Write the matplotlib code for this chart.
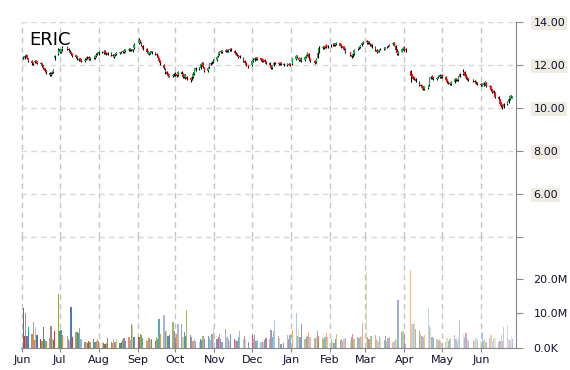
import matplotlib
matplotlib.use("Agg")
import matplotlib.pyplot as plt
import matplotlib.dates as mdates
import matplotlib.ticker as ticker
import numpy as np
import pandas as pd

# trading days Jun 2014 - Jun 2015
holidays = ['2014-07-04', '2014-09-01', '2014-11-27', '2014-12-25', '2015-01-01',
            '2015-01-19', '2015-02-16', '2015-04-03', '2015-05-25']
dates = pd.bdate_range('2014-06-02', '2015-06-26', freq='C', holidays=holidays)

opens = [
    12.38, 12.30, 12.42, 12.44, 12.28, 12.18, 12.06, 12.14, 12.20, 12.16, 12.08, 12.04, 11.96, 11.84, 11.70, 11.64, 11.52, 11.62, 11.68, 12.30, 12.50,
    12.72, 12.60, 12.72, 12.82, 12.74, 12.66, 12.58, 12.52, 12.44, 12.38, 12.24, 12.30, 12.24, 12.20, 12.26, 12.30, 12.36, 12.26, 12.34, 12.32, 12.42, 12.50,
    12.52, 12.62, 12.56, 12.64, 12.56, 12.48, 12.56, 12.46, 12.38, 12.44, 12.50, 12.54, 12.58, 12.64, 12.60, 12.66, 12.70, 12.76, 12.72, 12.66, 12.78,
    13.00, 13.14, 13.02, 12.90, 12.74, 12.62, 12.52, 12.56, 12.64, 12.56, 12.50, 12.42, 12.30, 12.18, 12.02, 11.82, 11.66, 11.58, 11.46, 11.50, 11.56,
    11.60, 11.56, 11.52, 11.66, 11.58, 11.44, 11.56, 11.42, 11.38, 11.32, 11.42, 11.58, 11.78, 11.86, 11.84, 12.02, 12.08, 11.88, 11.72, 11.90, 12.04, 12.12, 12.14,
    12.24, 12.40, 12.52, 12.64, 12.60, 12.62, 12.70, 12.64, 12.68, 12.74, 12.66, 12.56, 12.50, 12.44, 12.40, 12.32, 12.18, 12.08, 11.98,
    11.98, 12.18, 12.24, 12.34, 12.26, 12.30, 12.26, 12.18, 12.24, 12.16, 12.08, 11.98, 11.86, 11.98, 12.12, 12.10, 12.04, 12.10, 12.06, 11.98, 12.06, 12.04,
    12.06, 12.28, 12.42, 12.32, 12.24, 12.32, 12.22, 12.36, 12.46, 12.52, 12.28, 12.18, 12.12, 12.34, 12.60, 12.78, 12.86, 12.82, 12.92, 12.84,
    12.86, 12.92, 12.98, 12.94, 12.98, 13.00, 12.92, 12.86, 12.82, 12.74, 12.58, 12.46, 12.40, 12.52, 12.72, 12.78, 12.84, 12.92, 13.02,
    13.10, 13.02, 13.08, 12.98, 12.96, 12.84, 12.68, 12.62, 12.66, 12.74, 12.72, 12.76, 12.82, 12.86, 12.90, 12.96, 13.02, 12.88, 12.68, 12.52, 12.62, 12.74,
    12.82, 12.68, 11.70, 11.52, 11.46, 11.42, 11.36, 11.22, 11.08, 11.02, 10.96, 10.88, 10.94, 11.08, 11.38, 11.48, 11.42, 11.34, 11.42, 11.52, 11.44,
    11.52, 11.44, 11.32, 11.22, 11.16, 11.12, 11.22, 11.36, 11.32, 11.30, 11.46, 11.58, 11.66, 11.52, 11.42, 11.36, 11.32, 11.26, 11.22, 11.16,
    11.12, 11.02, 11.08, 11.14, 11.18, 11.02, 10.96, 10.86, 10.78, 10.68, 10.52, 10.38, 10.24, 10.12, 10.04, 10.18, 10.28, 10.42, 10.56, 10.48,
]
highs = [
    12.42, 12.44, 12.52, 12.48, 12.32, 12.22, 12.16, 12.22, 12.24, 12.20, 12.12, 12.08, 12.00, 11.88, 11.76, 11.68, 11.65, 11.70, 11.80, 12.48, 12.78,
    12.76, 12.74, 12.86, 12.88, 12.78, 12.70, 12.62, 12.56, 12.48, 12.42, 12.34, 12.34, 12.28, 12.30, 12.35, 12.40, 12.40, 12.36, 12.38, 12.45, 12.54, 12.62,
    12.64, 12.66, 12.68, 12.68, 12.60, 12.60, 12.60, 12.50, 12.46, 12.54, 12.60, 12.62, 12.66, 12.68, 12.70, 12.76, 12.80, 12.80, 12.76, 12.76, 13.00,
    13.24, 13.18, 13.06, 12.94, 12.78, 12.66, 12.62, 12.66, 12.66, 12.60, 12.54, 12.46, 12.34, 12.22, 12.06, 11.86, 11.70, 11.62, 11.56, 11.60, 11.64,
    11.66, 11.62, 11.70, 11.72, 11.62, 11.60, 11.60, 11.48, 11.42, 11.50, 11.66, 11.84, 11.90, 11.90, 12.10, 12.16, 12.12, 11.92, 11.90, 12.10, 12.14, 12.20, 12.26,
    12.40, 12.60, 12.66, 12.70, 12.70, 12.72, 12.74, 12.74, 12.78, 12.78, 12.68, 12.60, 12.54, 12.48, 12.44, 12.36, 12.22, 12.12, 12.02,
    12.24, 12.30, 12.36, 12.38, 12.36, 12.34, 12.30, 12.26, 12.28, 12.20, 12.12, 12.02, 12.00, 12.14, 12.16, 12.14, 12.14, 12.14, 12.08, 12.08, 12.10, 12.08,
    12.34, 12.46, 12.46, 12.36, 12.34, 12.36, 12.40, 12.50, 12.60, 12.56, 12.32, 12.22, 12.34, 12.60, 12.86, 12.90, 12.90, 12.94, 12.96, 12.95,
    12.96, 13.00, 13.02, 13.04, 13.08, 13.04, 12.96, 12.90, 12.86, 12.78, 12.62, 12.50, 12.54, 12.74, 12.80, 12.88, 12.94, 13.04, 13.12,
    13.14, 13.12, 13.10, 13.02, 12.98, 12.88, 12.72, 12.70, 12.74, 12.78, 12.82, 12.84, 12.90, 12.92, 12.98, 13.05, 13.06, 12.92, 12.72, 12.64, 12.80, 12.84,
    12.86, 12.80, 11.78, 11.56, 11.50, 11.46, 11.40, 11.26, 11.12, 11.06, 11.00, 11.00, 11.05, 11.45, 11.50, 11.52, 11.46, 11.44, 11.55, 11.56, 11.55,
    11.56, 11.48, 11.36, 11.26, 11.20, 11.24, 11.40, 11.40, 11.36, 11.50, 11.64, 11.80, 11.70, 11.56, 11.46, 11.40, 11.36, 11.30, 11.26, 11.20,
    11.16, 11.14, 11.20, 11.26, 11.22, 11.06, 11.00, 10.90, 10.82, 10.72, 10.56, 10.42, 10.28, 10.16, 10.24, 10.34, 10.44, 10.60, 10.62, 10.56,
]
lows = [
    12.26, 12.27, 12.38, 12.26, 12.15, 12.02, 12.02, 12.10, 12.10, 12.05, 12.00, 11.92, 11.80, 11.68, 11.60, 11.50, 11.48, 11.58, 11.64, 12.25, 12.45,
    12.55, 12.56, 12.66, 12.70, 12.62, 12.55, 12.45, 12.38, 12.30, 12.25, 12.20, 12.18, 12.12, 12.16, 12.22, 12.26, 12.24, 12.22, 12.26, 12.28, 12.38, 12.45,
    12.48, 12.55, 12.52, 12.50, 12.44, 12.44, 12.40, 12.35, 12.34, 12.40, 12.46, 12.50, 12.54, 12.56, 12.56, 12.62, 12.66, 12.66, 12.64, 12.62, 12.74,
    12.96, 13.00, 12.90, 12.70, 12.56, 12.50, 12.48, 12.52, 12.50, 12.45, 12.40, 12.26, 12.14, 12.02, 11.80, 11.60, 11.52, 11.42, 11.42, 11.46, 11.50,
    11.48, 11.44, 11.48, 11.54, 11.40, 11.40, 11.36, 11.28, 11.22, 11.28, 11.38, 11.55, 11.74, 11.76, 11.80, 11.98, 11.85, 11.65, 11.68, 11.86, 11.98, 12.06, 12.10,
    12.20, 12.36, 12.48, 12.56, 12.56, 12.58, 12.60, 12.60, 12.64, 12.64, 12.50, 12.45, 12.40, 12.34, 12.30, 12.15, 12.05, 11.95, 11.85,
    11.95, 12.14, 12.20, 12.24, 12.22, 12.20, 12.15, 12.14, 12.10, 12.05, 11.95, 11.82, 11.82, 11.94, 12.04, 12.00, 12.00, 12.00, 11.96, 11.95, 11.98, 11.95,
    12.02, 12.24, 12.30, 12.20, 12.20, 12.15, 12.18, 12.32, 12.42, 12.25, 12.14, 12.05, 12.08, 12.30, 12.56, 12.74, 12.76, 12.78, 12.80, 12.80,
    12.82, 12.88, 12.88, 12.90, 12.94, 12.86, 12.80, 12.76, 12.70, 12.56, 12.40, 12.32, 12.36, 12.48, 12.68, 12.74, 12.80, 12.88, 12.98,
    12.98, 12.98, 12.96, 12.90, 12.80, 12.66, 12.55, 12.58, 12.62, 12.68, 12.68, 12.72, 12.78, 12.82, 12.86, 12.92, 12.86, 12.66, 12.48, 12.48, 12.58, 12.70,
    12.64, 12.62, 11.20, 11.38, 11.34, 11.30, 11.20, 11.00, 10.95, 10.90, 10.84, 10.84, 10.90, 11.04, 11.34, 11.36, 11.30, 11.30, 11.38, 11.40, 11.40,
    11.40, 11.26, 11.15, 11.10, 11.05, 11.08, 11.18, 11.26, 11.24, 11.26, 11.42, 11.55, 11.46, 11.36, 11.30, 11.26, 11.20, 11.16, 11.10, 11.05,
    11.00, 11.00, 11.04, 11.10, 10.96, 10.90, 10.80, 10.70, 10.64, 10.45, 10.35, 10.15, 10.02, 9.96, 10.00, 10.14, 10.24, 10.38, 10.45, 10.44,
]
closes = [
    12.32, 12.40, 12.46, 12.30, 12.20, 12.08, 12.12, 12.18, 12.15, 12.10, 12.05, 11.95, 11.85, 11.72, 11.66, 11.55, 11.60, 11.66, 11.75, 12.40, 12.70,
    12.62, 12.70, 12.80, 12.75, 12.68, 12.60, 12.50, 12.42, 12.36, 12.30, 12.28, 12.22, 12.18, 12.25, 12.30, 12.34, 12.28, 12.32, 12.30, 12.40, 12.48, 12.55,
    12.58, 12.60, 12.62, 12.55, 12.50, 12.55, 12.45, 12.40, 12.42, 12.50, 12.55, 12.58, 12.62, 12.60, 12.66, 12.72, 12.75, 12.70, 12.68, 12.72, 12.95,
    13.16, 13.05, 12.95, 12.75, 12.60, 12.55, 12.58, 12.62, 12.55, 12.50, 12.45, 12.30, 12.20, 12.08, 11.85, 11.65, 11.60, 11.48, 11.52, 11.55, 11.58,
    11.55, 11.50, 11.65, 11.60, 11.45, 11.55, 11.40, 11.35, 11.30, 11.45, 11.60, 11.80, 11.85, 11.80, 12.05, 12.10, 11.90, 11.70, 11.85, 12.05, 12.10, 12.15, 12.20,
    12.35, 12.55, 12.60, 12.62, 12.65, 12.68, 12.65, 12.70, 12.72, 12.68, 12.55, 12.50, 12.45, 12.38, 12.35, 12.20, 12.10, 12.00, 11.90,
    12.20, 12.25, 12.30, 12.28, 12.32, 12.25, 12.20, 12.22, 12.15, 12.10, 12.00, 11.88, 11.95, 12.10, 12.08, 12.05, 12.10, 12.05, 12.00, 12.05, 12.02, 12.00,
    12.30, 12.40, 12.35, 12.25, 12.30, 12.20, 12.35, 12.45, 12.55, 12.30, 12.20, 12.10, 12.30, 12.55, 12.80, 12.85, 12.80, 12.90, 12.85, 12.90,
    12.90, 12.95, 12.92, 13.00, 13.02, 12.90, 12.85, 12.80, 12.75, 12.60, 12.45, 12.38, 12.50, 12.70, 12.75, 12.85, 12.90, 13.00, 13.07,
    13.05, 13.07, 13.00, 12.95, 12.85, 12.70, 12.60, 12.65, 12.70, 12.72, 12.78, 12.80, 12.85, 12.88, 12.95, 13.00, 12.90, 12.70, 12.55, 12.60, 12.75, 12.80,
    12.70, 12.75, 11.50, 11.45, 11.40, 11.35, 11.25, 11.05, 11.00, 10.95, 10.90, 10.95, 11.00, 11.40, 11.45, 11.40, 11.35, 11.40, 11.50, 11.45, 11.50,
    11.45, 11.30, 11.20, 11.15, 11.10, 11.20, 11.35, 11.30, 11.28, 11.45, 11.60, 11.65, 11.50, 11.40, 11.35, 11.30, 11.25, 11.20, 11.15, 11.10,
    11.05, 11.10, 11.15, 11.20, 11.00, 10.95, 10.85, 10.75, 10.70, 10.50, 10.40, 10.20, 10.10, 10.05, 10.20, 10.30, 10.40, 10.55, 10.50, 10.50,
]
# volume in millions
volumes = [
    11.5, 3.4, 10.0, 3.5, 6.0, 4.0, 7.6, 2.3, 6.0, 3.6, 2.6, 2.0, 6.0, 2.6, 2.1, 2.9, 6.2, 2.6, 2.3, 5.0, 15.6,
    5.0, 5.2, 3.6, 3.3, 2.6, 2.0, 12.0, 3.0, 4.7, 4.5, 4.4, 5.7, 2.6, 1.6, 1.8, 1.5, 2.0, 1.6, 2.4, 1.7, 2.0, 2.6,
    2.0, 1.8, 1.4, 1.0, 1.5, 2.8, 1.6, 1.4, 2.6, 1.8, 2.6, 1.5, 1.6, 2.3, 2.8, 2.0, 3.0, 2.2, 7.0, 6.5, 3.0,
    3.0, 4.0, 3.8, 2.8, 2.3, 2.0, 2.9, 2.2, 2.6, 2.0, 3.2, 2.4, 8.4, 4.0, 9.4, 4.8, 5.0, 3.3, 3.6, 7.4, 5.0,
    2.8, 4.0, 7.0, 6.8, 3.0, 4.5, 3.4, 11.0, 3.6, 3.2, 2.0, 2.4, 2.0, 1.8, 2.6, 2.2, 3.3, 2.4, 3.3, 2.8, 2.2, 4.0, 5.5,
    2.6, 3.0, 3.9, 2.4, 1.8, 5.5, 3.0, 2.6, 2.0, 4.0, 2.4, 2.3, 2.0, 3.2, 5.0, 2.6, 3.3, 2.4, 1.8,
    3.6, 2.6, 3.6, 2.0, 2.3, 1.6, 1.8, 1.8, 2.2, 2.8, 2.6, 5.2, 3.0, 5.0, 8.2, 3.4, 2.8, 1.2, 1.4, 3.6, 2.4, 3.6,
    5.2, 10.2, 3.4, 5.2, 3.0, 6.8, 2.6, 3.0, 3.4, 4.6, 3.0, 2.8, 3.2, 5.0, 3.4, 2.8, 2.4, 3.0, 4.3, 3.2,
    2.4, 2.0, 1.5, 2.6, 3.9, 2.2, 2.6, 2.0, 2.4, 2.8, 2.2, 3.2, 3.9, 2.6, 3.0, 2.8, 3.4, 3.2, 7.2,
    22.0, 3.0, 2.6, 3.3, 3.4, 3.6, 2.4, 2.0, 3.3, 2.8, 2.2, 3.3, 2.0, 2.8, 3.0, 1.8, 2.0, 2.6, 2.2, 13.9, 4.6, 4.8,
    3.6, 1.0, 22.6, 6.8, 6.8, 7.5, 5.5, 5.0, 4.0, 3.3, 3.0, 3.6, 11.5, 6.2, 5.8, 3.0, 2.8, 2.6, 2.1, 2.4, 2.0,
    1.5, 1.8, 2.8, 2.0, 2.4, 2.8, 3.6, 2.4, 2.0, 2.8, 8.0, 4.0, 3.0, 4.3, 2.6, 2.0, 2.3, 2.0, 2.8, 2.2,
    2.1, 4.6, 2.0, 2.6, 1.8, 2.8, 3.6, 2.0, 2.4, 2.8, 1.8, 2.0, 3.6, 2.0, 6.0, 6.5, 2.4, 2.2, 3.3, 2.6,
]

palette = ['#4572A7', '#AA4643', '#89A54E', '#80699B', '#3D96AE',
           '#DB843D', '#92A8CD', '#A47D7C', '#B5CA92']

x = mdates.date2num(dates)
o = np.array(opens)
h = np.array(highs)
l = np.array(lows)
c = np.array(closes)
v = np.array(volumes)

fig = plt.figure(figsize=(5.7, 3.7), dpi=100)
left, width = 21 / 570, 494.5 / 570
ax = fig.add_axes([left, 133.3 / 370, width, 214.7 / 370])
axv = fig.add_axes([left, 22.3 / 370, width, 111 / 370], sharex=ax)
axv.patch.set_visible(False)

# candles
up = c >= o
ax.vlines(x, l, h, color='black', linewidth=0.8, zorder=3)
ax.bar(x[up], (c - o)[up], bottom=o[up], width=1.1, color='#12b04c', zorder=4)
ax.bar(x[~up], (o - c)[~up], bottom=c[~up], width=1.1, color='#f01010', zorder=4)

# volume bars, colours cycle and fade over time
n = len(v)
for i in range(n):
    alpha = 1.0 - 0.6 * i / (n - 1)
    axv.bar(x[i], v[i], width=1.0, color=palette[i % len(palette)], alpha=alpha,
            linewidth=0, antialiased=False, zorder=3)

ax.set_ylim(4, 14)
axv.set_ylim(0, 32.4)
ax.set_xlim(mdates.date2num(pd.Timestamp('2014-06-01')) - 0.8,
            mdates.date2num(pd.Timestamp('2015-06-28')) + 0.4)

for a in (ax, axv):
    for s in ('left', 'top'):
        a.spines[s].set_visible(False)
    a.spines['right'].set_color('#888888')
    a.yaxis.tick_right()
    a.tick_params(axis='y', direction='out', length=5, color='#888888',
                  labelsize=8, labelcolor='#101030', pad=8)
    a.xaxis.set_major_locator(mdates.MonthLocator())
    a.grid(axis='x', color='#c4c4c4', linestyle=(0, (4, 3)), linewidth=1)
    a.set_axisbelow(True)
ax.spines['bottom'].set_visible(False)
ax.tick_params(axis='x', length=0, labelbottom=False)

ax.set_yticks([4, 6, 8, 10, 12, 14])
ax.yaxis.set_major_formatter(ticker.FuncFormatter(lambda y, _: '' if y == 4 else f'{y:.2f}'))
ax.grid(axis='y', color='#d8d8d8', linestyle=(0, (4, 3)), linewidth=1)
# bottom price gridline sits on the panel edge
ax.axhline(4, color='#d8d8d8', linestyle=(0, (4, 3)), linewidth=1, clip_on=False, zorder=0.5)
for lab in ax.get_yticklabels():
    lab.set_bbox(dict(facecolor='#eeece1', edgecolor='none', pad=1.5))

axv.set_yticks([0, 10, 20])
axv.yaxis.set_major_formatter(ticker.FuncFormatter(lambda y, _: '0.0K' if y == 0 else f'{y:.1f}M'))
axv.spines['bottom'].set_color('#888888')
axv.xaxis.set_major_formatter(mdates.DateFormatter('%b'))
axv.tick_params(axis='x', direction='out', length=3, color='#888888',
                labelsize=8, labelcolor='#101030', pad=2)

fig.text(29 / 570, 1 - 45 / 370, 'ERIC', fontsize=13, color='black', va='baseline')

fig.savefig('out.png', dpi=100)
